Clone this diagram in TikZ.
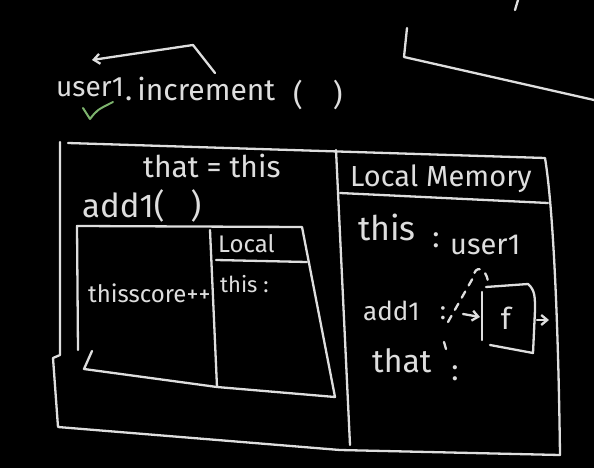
\documentclass[tikz,border=0pt]{standalone}
\usepackage{fontspec}
\setmainfont{Fira Sans}
\usetikzlibrary{arrows.meta}
\definecolor{chalk}{RGB}{222,222,222}
\definecolor{chalkgreen}{RGB}{125,180,110}

\begin{document}
\begin{tikzpicture}[x=1pt, y=-1pt,
  chalkline/.style={draw=chalk, line width=2.3pt, line cap=round, line join=round},
  chalkdash/.style={chalkline, dash pattern=on 7pt off 7pt},
  word/.style={text=chalk, anchor=base west, inner sep=0pt, font={\fontsize{#1}{#1}\selectfont}},
  word/.default=26,
  dots/.style={text=chalk, inner sep=0pt, font={\fontsize{#1}{#1}\selectfont}},
  barb/.style={-{Straight Barb[length=6pt, width=10pt]}}]
\fill[black] (0,0) rectangle (594,468);
\useasboundingbox (0,0) rectangle (594,468);

% the call on the board
\node[word=28] (user) at (56,97) {user1};
\node[word=30] (incr) at (125,101) {.\,increment};
\node[word=30] (paren) at (293,106) {(\quad)};
\draw[chalkline, draw=chalkgreen, line width=2pt] (83,108) -- (90,119) .. controls (97,110) .. (113,102);
\coordinate (hookstart) at (215,73);
\coordinate (hookbend) at (193,45);
\coordinate (hookend) at (92,60);
\draw[chalkline, barb] (hookstart) -- (hookbend) -- (hookend);

% leftover strokes, top right
\draw[chalkline] (407,28) -- (404,57) -- (594,100);
\draw[chalkline] (515,10) -- (518,0);

% outer frame
\draw[chalkline] (60,142) -- (60,355) -- (53,358) -- (58,427) -- (340,450) -- (560,455);
\draw[chalkline] (68,143) -- (545,158) .. controls (552,200) and (558,300) .. (560,455);
\draw[chalkline] (336,150) -- (350,445);
\draw[chalkline] (340,193) -- (548,203);

% inner frame of add1
\draw[chalkline] (78,350) -- (77,226) -- (302,227) -- (335,397) -- (217,387) -- (84,369) -- (92,351);
\draw[chalkline] (210,230) -- (217,387);
\draw[chalkline] (216,260) -- (307,262);

\node[word=30] (thatthis) at (143,177) {that = this};
\node[word=33] (addcall) at (82,217) {add1(\hspace{26pt})};
\node[word=24] (innerhead) at (218,252) {Local};
\node[word=22] (innerthis) at (220,292) {this :};
\node[word=24] (score) at (88,302) {thisscore++};

% local memory
\node[word=29] (memhead) at (350,186) {Local Memory};
\node[word=34] (memthis) at (358,240) {this};
\node[dots=30] (colthis) at (436,240) {:};
\node[word=29] (memuser) at (450,254) {user1};
\node[word=26] (memadd) at (363,320) {add1};
\node[dots=26] (coladd) at (443,313) {:};
\node[word=32] (memthat) at (372,372) {that};
\node[dots=30] (colthat) at (455,373) {:};
\draw[chalkline] (444,342) -- (446,349);

% function object
\draw[chalkline] (482,292) -- (482,340);
\draw[chalkline] (486,287) -- (528,284) .. controls (535,290) and (535,297) .. (535,310) -- (533,353) -- (490,345);
\node[dots=30] (fun) at (506,318) {f};
\coordinate (linkfrom) at (448,322);
\coordinate (linkto) at (488,282);
\draw[chalkdash] (linkfrom) -- (474,276) .. controls (474,266) and (486,266) .. (linkto);
\coordinate (inarrow) at (463,314);
\coordinate (inhead) at (480,317);
\draw[chalkline, barb] (inarrow) -- (inhead);
\coordinate (outarrow) at (537,320);
\coordinate (outhead) at (549,320);
\draw[chalkline, barb] (outarrow) -- (outhead);
\end{tikzpicture}
\end{document}
